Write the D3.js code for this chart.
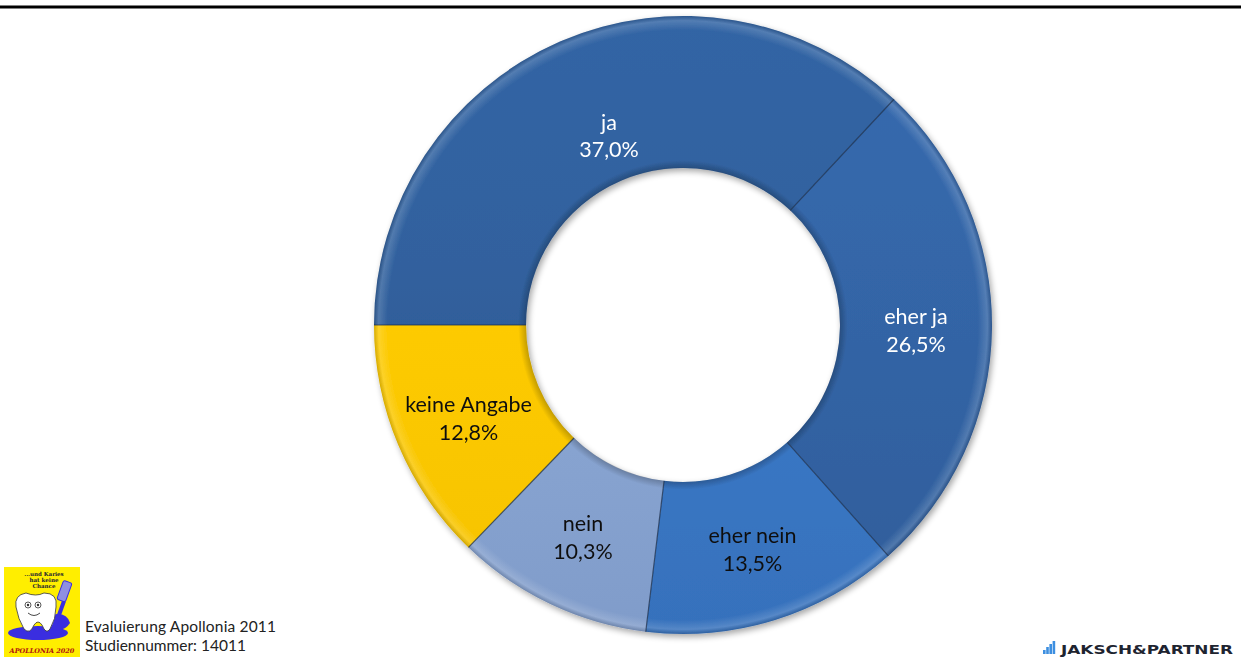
<!DOCTYPE html>
<html>
<head>
<meta charset="utf-8">
<script src="https://cdn.jsdelivr.net/npm/d3@7"></script>
<style>
  html, body { margin: 0; padding: 0; background: #ffffff; }
  svg { display: block; }
</style>
</head>
<body>
<svg id="chart" width="1241" height="658"></svg>
<script>
// Survey answers, in clockwise order starting at 9 o'clock
const categories = ["ja", "eher ja", "eher nein", "nein", "keine Angabe"];
const shares = [37.0, 26.5, 13.5, 10.3, 12.8];
const shareLabels = ["37,0%", "26,5%", "13,5%", "10,3%", "12,8%"];

const fills = ["#31619e", "#3466a8", "#3c7bca", "#8eaad6", "#ffcc00"];
const fillsDark = ["#29518a", "#2f5d9a", "#3671bc", "#809cca", "#f5c200"];
const textColors = ["#ffffff", "#ffffff", "#111111", "#111111", "#111111"];

const svg = d3.select("#chart");
const W = 1241;
const cx = 683, cy = 325;
const rOuter = 309, rInner = 157;

// Header rule
svg.append("line")
  .attr("x1", 0).attr("x2", W)
  .attr("y1", 7).attr("y2", 7)
  .attr("stroke", "#000").attr("stroke-width", 3);

const defs = svg.append("defs");

// Soft drop shadow for the ring
const shadow = defs.append("filter").attr("id", "ringShadow")
  .attr("x", "-10%").attr("y", "-10%").attr("width", "120%").attr("height", "120%");
shadow.append("feGaussianBlur").attr("in", "SourceAlpha").attr("stdDeviation", 3).attr("result", "b");
shadow.append("feOffset").attr("in", "b").attr("dx", 2).attr("dy", 3).attr("result", "o");
shadow.append("feComponentTransfer").attr("in", "o").attr("result", "s")
  .append("feFuncA").attr("type", "linear").attr("slope", 0.35);
const merge = shadow.append("feMerge");
merge.append("feMergeNode").attr("in", "s");
merge.append("feMergeNode").attr("in", "SourceGraphic");

// Vertical shading per slice (ring-local coordinates)
categories.forEach((c, i) => {
  const g = defs.append("linearGradient")
    .attr("id", "grad" + i)
    .attr("gradientUnits", "userSpaceOnUse")
    .attr("x1", 0).attr("y1", -rOuter)
    .attr("x2", 0).attr("y2", rOuter);
  g.append("stop").attr("offset", "0%").attr("stop-color", d3.color(fills[i]).brighter(0.12));
  g.append("stop").attr("offset", "40%").attr("stop-color", fills[i]);
  g.append("stop").attr("offset", "100%").attr("stop-color", fillsDark[i]);
});

// Bevel highlight along the rims
const bevel = defs.append("radialGradient")
  .attr("id", "bevel")
  .attr("gradientUnits", "userSpaceOnUse")
  .attr("cx", 0).attr("cy", 0).attr("r", rOuter);
bevel.append("stop").attr("offset", rInner / rOuter).attr("stop-color", "#000").attr("stop-opacity", 0.22);
bevel.append("stop").attr("offset", rInner / rOuter + 0.025).attr("stop-color", "#000").attr("stop-opacity", 0);
bevel.append("stop").attr("offset", 0.955).attr("stop-color", "#fff").attr("stop-opacity", 0);
bevel.append("stop").attr("offset", 0.985).attr("stop-color", "#fff").attr("stop-opacity", 0.16);
bevel.append("stop").attr("offset", 1).attr("stop-color", "#000").attr("stop-opacity", 0.15);

const pie = d3.pie()
  .sort(null)
  .value(d => d)
  .startAngle(-Math.PI / 2)
  .endAngle(3 * Math.PI / 2);

const arcs = pie(shares);
const arc = d3.arc().innerRadius(rInner).outerRadius(rOuter);

const ring = svg.append("g")
  .attr("transform", `translate(${cx},${cy})`)
  .attr("filter", "url(#ringShadow)");

ring.selectAll("path.slice")
  .data(arcs)
  .join("path")
  .attr("class", "slice")
  .attr("d", arc)
  .attr("fill", (d, i) => `url(#grad${i})`);

// Rim shading overlay
ring.append("path")
  .attr("d", d3.arc().innerRadius(rInner).outerRadius(rOuter).startAngle(0).endAngle(2 * Math.PI)())
  .attr("fill", "url(#bevel)")
  .attr("pointer-events", "none");

// Dark separators between slices
ring.selectAll("line.sep")
  .data(arcs)
  .join("line")
  .attr("class", "sep")
  .attr("x1", d => rInner * Math.sin(d.startAngle))
  .attr("y1", d => -rInner * Math.cos(d.startAngle))
  .attr("x2", d => rOuter * Math.sin(d.startAngle))
  .attr("y2", d => -rOuter * Math.cos(d.startAngle))
  .attr("stroke", "#1b2f4d")
  .attr("stroke-opacity", 0.75)
  .attr("stroke-width", 1.2);

// Slice labels: mid-ring, pulled inward for the widest slice
const midR = (rInner + rOuter) / 2;
const labelPos = d => {
  const span = d.endAngle - d.startAngle;
  const r = span > 2 ? midR - 28 : midR;
  const a = (d.startAngle + d.endAngle) / 2 + (span > 2 ? 0.04 : 0);
  return [r * Math.sin(a), -r * Math.cos(a)];
};
const labels = ring.selectAll("text.lbl")
  .data(arcs)
  .join("text")
  .attr("class", "lbl")
  .attr("transform", d => `translate(${labelPos(d)})`)
  .attr("text-anchor", "middle")
  .attr("font-family", "Lato, 'Open Sans', sans-serif")
  .attr("font-size", 21.5)
  .attr("fill", (d, i) => textColors[i]);
labels.append("tspan").attr("x", 0).attr("dy", "-0.2em").text((d, i) => categories[i]);
labels.append("tspan").attr("x", 0).attr("dy", "1.3em").text((d, i) => shareLabels[i]);

// Study footer
const foot = svg.append("g").attr("font-family", "Lato, 'Open Sans', sans-serif").attr("font-size", 15.5).attr("fill", "#222");
foot.append("text").attr("x", 85).attr("y", 632).attr("textLength", 191).text("Evaluierung Apollonia 2011");
foot.append("text").attr("x", 85).attr("y", 651).text("Studiennummer: 14011");

// Apollonia badge
const badge = svg.append("g").attr("transform", "translate(4,567)");
const serif = "'DejaVu Serif', serif";
badge.append("rect").attr("width", 76).attr("height", 90).attr("fill", "#ffee00");
["...und Karies", "hat keine", "Chance"].forEach((t, i) => {
  badge.append("text").attr("x", 40).attr("y", 9 + i * 6).attr("text-anchor", "middle")
    .attr("font-family", serif).attr("font-size", 5.5).attr("font-weight", "bold").attr("fill", "#223").text(t);
});
// puddle
badge.append("ellipse").attr("cx", 34).attr("cy", 66).attr("rx", 30).attr("ry", 7).attr("fill", "#3a2ee0");
badge.append("path").attr("d", "M40,50 Q62,42 66,56 Q60,66 46,62 Z").attr("fill", "#3a2ee0");
// tooth
badge.append("path")
  .attr("d", "M12,40 Q10,28 22,26 Q32,30 40,26 Q54,26 52,40 Q52,52 46,62 Q42,68 38,58 Q34,52 30,58 Q26,68 20,62 Q14,52 12,40 Z")
  .attr("fill", "#ffffff").attr("stroke", "#333").attr("stroke-width", 0.8);
[24, 34].forEach(x => {
  badge.append("circle").attr("cx", x).attr("cy", 38).attr("r", 3).attr("fill", "#fff").attr("stroke", "#333").attr("stroke-width", 0.8);
  badge.append("circle").attr("cx", x).attr("cy", 38).attr("r", 1.2).attr("fill", "#333");
});
badge.append("path").attr("d", "M24,46 Q30,51 36,46").attr("fill", "none").attr("stroke", "#333").attr("stroke-width", 0.9);
// toothbrush
badge.append("path").attr("d", "M50,62 L60,34").attr("stroke", "#3a2ee0").attr("stroke-width", 4);
badge.append("rect").attr("x", 56).attr("y", 14).attr("width", 9).attr("height", 20).attr("rx", 2)
  .attr("transform", "rotate(20,60,24)").attr("fill", "#8f8fe0").attr("stroke", "#3a2ee0").attr("stroke-width", 1);
badge.append("text").attr("x", 38).attr("y", 86).attr("text-anchor", "middle")
  .attr("font-family", serif).attr("font-size", 6.5).attr("font-weight", "bold").attr("font-style", "italic")
  .attr("fill", "#b01010").text("APOLLONIA 2020");

// Company mark
const brand = svg.append("g").attr("transform", "translate(1043,654)");
[4, 7, 10, 13].forEach((h, i) => {
  brand.append("rect").attr("x", i * 3.2).attr("y", -h).attr("width", 2.6).attr("height", h).attr("fill", "#3d8fe0");
});
brand.append("text").attr("x", 18).attr("y", 0)
  .attr("font-family", "'DejaVu Sans', sans-serif").attr("font-weight", "bold").attr("font-size", 12)
  .attr("fill", "#1e2430").attr("textLength", 172).attr("lengthAdjust", "spacingAndGlyphs")
  .text("JAKSCH&PARTNER");
</script>
</body>
</html>
